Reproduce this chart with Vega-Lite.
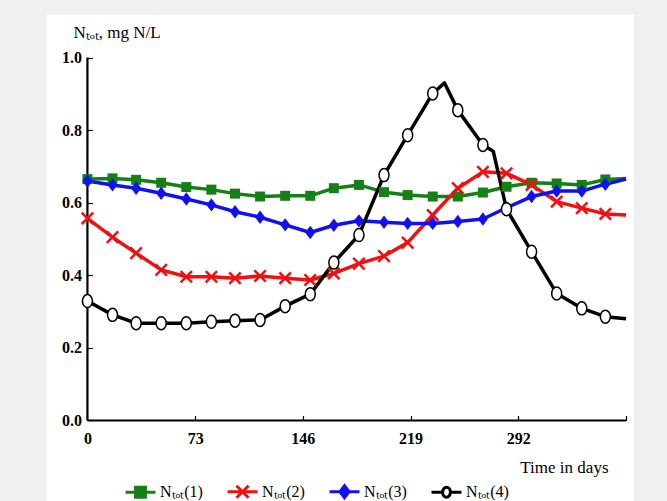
{
  "$schema": "https://vega.github.io/schema/vega-lite/v6.json",
  "width": 587,
  "height": 486,
  "autosize": {"type": "none"},
  "padding": {"left": 47, "top": 15, "right": 33, "bottom": 0},
  "background": "#eef0f2",
  "config": {"view": {"fill": "white", "stroke": null}},
  "data": {"values": [
    {"day": 0, "value": 0.665, "series": "Nₜₒₜ(1)", "marked": true},
    {"day": 17, "value": 0.667, "series": "Nₜₒₜ(1)", "marked": true},
    {"day": 33, "value": 0.663, "series": "Nₜₒₜ(1)", "marked": true},
    {"day": 50, "value": 0.655, "series": "Nₜₒₜ(1)", "marked": true},
    {"day": 67, "value": 0.643, "series": "Nₜₒₜ(1)", "marked": true},
    {"day": 84, "value": 0.636, "series": "Nₜₒₜ(1)", "marked": true},
    {"day": 100, "value": 0.625, "series": "Nₜₒₜ(1)", "marked": true},
    {"day": 117, "value": 0.617, "series": "Nₜₒₜ(1)", "marked": true},
    {"day": 134, "value": 0.619, "series": "Nₜₒₜ(1)", "marked": true},
    {"day": 151, "value": 0.619, "series": "Nₜₒₜ(1)", "marked": true},
    {"day": 167, "value": 0.640, "series": "Nₜₒₜ(1)", "marked": true},
    {"day": 184, "value": 0.649, "series": "Nₜₒₜ(1)", "marked": true},
    {"day": 201, "value": 0.629, "series": "Nₜₒₜ(1)", "marked": true},
    {"day": 217, "value": 0.621, "series": "Nₜₒₜ(1)", "marked": true},
    {"day": 234, "value": 0.617, "series": "Nₜₒₜ(1)", "marked": true},
    {"day": 251, "value": 0.617, "series": "Nₜₒₜ(1)", "marked": true},
    {"day": 268, "value": 0.628, "series": "Nₜₒₜ(1)", "marked": true},
    {"day": 284, "value": 0.644, "series": "Nₜₒₜ(1)", "marked": true},
    {"day": 301, "value": 0.655, "series": "Nₜₒₜ(1)", "marked": true},
    {"day": 318, "value": 0.653, "series": "Nₜₒₜ(1)", "marked": true},
    {"day": 335, "value": 0.649, "series": "Nₜₒₜ(1)", "marked": true},
    {"day": 351, "value": 0.664, "series": "Nₜₒₜ(1)", "marked": true},
    {"day": 365, "value": 0.667, "series": "Nₜₒₜ(1)", "marked": false},
    {"day": 0, "value": 0.557, "series": "Nₜₒₜ(2)", "marked": true},
    {"day": 17, "value": 0.505, "series": "Nₜₒₜ(2)", "marked": true},
    {"day": 33, "value": 0.461, "series": "Nₜₒₜ(2)", "marked": true},
    {"day": 50, "value": 0.415, "series": "Nₜₒₜ(2)", "marked": true},
    {"day": 67, "value": 0.396, "series": "Nₜₒₜ(2)", "marked": true},
    {"day": 84, "value": 0.396, "series": "Nₜₒₜ(2)", "marked": true},
    {"day": 100, "value": 0.392, "series": "Nₜₒₜ(2)", "marked": true},
    {"day": 117, "value": 0.398, "series": "Nₜₒₜ(2)", "marked": true},
    {"day": 134, "value": 0.392, "series": "Nₜₒₜ(2)", "marked": true},
    {"day": 151, "value": 0.387, "series": "Nₜₒₜ(2)", "marked": true},
    {"day": 167, "value": 0.405, "series": "Nₜₒₜ(2)", "marked": true},
    {"day": 184, "value": 0.432, "series": "Nₜₒₜ(2)", "marked": true},
    {"day": 201, "value": 0.453, "series": "Nₜₒₜ(2)", "marked": true},
    {"day": 217, "value": 0.490, "series": "Nₜₒₜ(2)", "marked": true},
    {"day": 234, "value": 0.566, "series": "Nₜₒₜ(2)", "marked": true},
    {"day": 251, "value": 0.640, "series": "Nₜₒₜ(2)", "marked": true},
    {"day": 268, "value": 0.685, "series": "Nₜₒₜ(2)", "marked": true},
    {"day": 284, "value": 0.681, "series": "Nₜₒₜ(2)", "marked": true},
    {"day": 301, "value": 0.649, "series": "Nₜₒₜ(2)", "marked": true},
    {"day": 318, "value": 0.603, "series": "Nₜₒₜ(2)", "marked": true},
    {"day": 335, "value": 0.585, "series": "Nₜₒₜ(2)", "marked": true},
    {"day": 351, "value": 0.569, "series": "Nₜₒₜ(2)", "marked": true},
    {"day": 365, "value": 0.566, "series": "Nₜₒₜ(2)", "marked": false},
    {"day": 0, "value": 0.660, "series": "Nₜₒₜ(3)", "marked": true},
    {"day": 17, "value": 0.649, "series": "Nₜₒₜ(3)", "marked": true},
    {"day": 33, "value": 0.640, "series": "Nₜₒₜ(3)", "marked": true},
    {"day": 50, "value": 0.626, "series": "Nₜₒₜ(3)", "marked": true},
    {"day": 67, "value": 0.610, "series": "Nₜₒₜ(3)", "marked": true},
    {"day": 84, "value": 0.594, "series": "Nₜₒₜ(3)", "marked": true},
    {"day": 100, "value": 0.575, "series": "Nₜₒₜ(3)", "marked": true},
    {"day": 117, "value": 0.560, "series": "Nₜₒₜ(3)", "marked": true},
    {"day": 134, "value": 0.539, "series": "Nₜₒₜ(3)", "marked": true},
    {"day": 151, "value": 0.518, "series": "Nₜₒₜ(3)", "marked": true},
    {"day": 167, "value": 0.538, "series": "Nₜₒₜ(3)", "marked": true},
    {"day": 184, "value": 0.550, "series": "Nₜₒₜ(3)", "marked": true},
    {"day": 201, "value": 0.546, "series": "Nₜₒₜ(3)", "marked": true},
    {"day": 217, "value": 0.543, "series": "Nₜₒₜ(3)", "marked": true},
    {"day": 234, "value": 0.543, "series": "Nₜₒₜ(3)", "marked": true},
    {"day": 251, "value": 0.548, "series": "Nₜₒₜ(3)", "marked": true},
    {"day": 268, "value": 0.555, "series": "Nₜₒₜ(3)", "marked": true},
    {"day": 284, "value": 0.586, "series": "Nₜₒₜ(3)", "marked": true},
    {"day": 301, "value": 0.617, "series": "Nₜₒₜ(3)", "marked": true},
    {"day": 318, "value": 0.632, "series": "Nₜₒₜ(3)", "marked": true},
    {"day": 335, "value": 0.632, "series": "Nₜₒₜ(3)", "marked": true},
    {"day": 351, "value": 0.651, "series": "Nₜₒₜ(3)", "marked": true},
    {"day": 365, "value": 0.665, "series": "Nₜₒₜ(3)", "marked": false},
    {"day": 0, "value": 0.329, "series": "Nₜₒₜ(4)", "marked": true},
    {"day": 17, "value": 0.291, "series": "Nₜₒₜ(4)", "marked": true},
    {"day": 33, "value": 0.268, "series": "Nₜₒₜ(4)", "marked": true},
    {"day": 50, "value": 0.268, "series": "Nₜₒₜ(4)", "marked": true},
    {"day": 67, "value": 0.268, "series": "Nₜₒₜ(4)", "marked": true},
    {"day": 84, "value": 0.272, "series": "Nₜₒₜ(4)", "marked": true},
    {"day": 100, "value": 0.275, "series": "Nₜₒₜ(4)", "marked": true},
    {"day": 117, "value": 0.277, "series": "Nₜₒₜ(4)", "marked": true},
    {"day": 134, "value": 0.315, "series": "Nₜₒₜ(4)", "marked": true},
    {"day": 151, "value": 0.348, "series": "Nₜₒₜ(4)", "marked": true},
    {"day": 167, "value": 0.435, "series": "Nₜₒₜ(4)", "marked": true},
    {"day": 184, "value": 0.511, "series": "Nₜₒₜ(4)", "marked": true},
    {"day": 201, "value": 0.676, "series": "Nₜₒₜ(4)", "marked": true},
    {"day": 217, "value": 0.786, "series": "Nₜₒₜ(4)", "marked": true},
    {"day": 234, "value": 0.901, "series": "Nₜₒₜ(4)", "marked": true},
    {"day": 242, "value": 0.930, "series": "Nₜₒₜ(4)", "marked": false},
    {"day": 251, "value": 0.855, "series": "Nₜₒₜ(4)", "marked": true},
    {"day": 268, "value": 0.759, "series": "Nₜₒₜ(4)", "marked": true},
    {"day": 275, "value": 0.742, "series": "Nₜₒₜ(4)", "marked": false},
    {"day": 284, "value": 0.582, "series": "Nₜₒₜ(4)", "marked": true},
    {"day": 301, "value": 0.465, "series": "Nₜₒₜ(4)", "marked": true},
    {"day": 318, "value": 0.350, "series": "Nₜₒₜ(4)", "marked": true},
    {"day": 335, "value": 0.309, "series": "Nₜₒₜ(4)", "marked": true},
    {"day": 351, "value": 0.286, "series": "Nₜₒₜ(4)", "marked": true},
    {"day": 365, "value": 0.280, "series": "Nₜₒₜ(4)", "marked": false}
  ]},
  "encoding": {
    "x": {
      "field": "day", "type": "quantitative",
      "scale": {"domain": [-27.4, 370.4], "nice": false, "zero": false},
      "axis": {
        "title": "Time in days",
        "values": [0, 73, 146, 219, 292, 365],
        "format": "d",
        "labelExpr": "datum.value == 365 ? '' : datum.label",
        "domain": false, "grid": false,
        "offset": -80.5,
        "tickSize": -5, "tickColor": "black", "tickWidth": 1.2,
        "labelPadding": 15,
        "labelFont": "Liberation Serif", "labelFontWeight": "bold", "labelFontSize": 16, "labelColor": "black",
        "titleFont": "Liberation Serif", "titleFontWeight": "normal", "titleFontSize": 17, "titleColor": "black",
        "titleX": 561, "titleY": 47, "titleAlign": "right", "titleBaseline": "middle"
      }
    },
    "y": {
      "field": "value", "type": "quantitative",
      "scale": {"domain": [-0.2218, 1.1171], "nice": false, "zero": false},
      "axis": {
        "title": "Nₜₒₜ, mg N/L",
        "values": [0, 0.2, 0.4, 0.6, 0.8, 1.0],
        "format": ".1f",
        "domain": false, "grid": false,
        "offset": -40.4,
        "tickSize": -5, "tickColor": "black", "tickWidth": 1.2,
        "labelPadding": 11,
        "labelFont": "Liberation Serif", "labelFontWeight": "bold", "labelFontSize": 16, "labelColor": "black",
        "titleFont": "Liberation Serif", "titleFontWeight": "normal", "titleFontSize": 17, "titleColor": "black",
        "titleAngle": 0, "titleX": -14.4, "titleY": 22, "titleAlign": "left", "titleBaseline": "alphabetic"
      }
    }
  },
  "layer": [
    {
      "transform": [{"filter": "datum.day == 0 && datum.series === 'Nₜₒₜ(1)'"}],
      "mark": {"type": "rule", "color": "black", "strokeWidth": 2.2},
      "encoding": {
        "x": {"datum": 0, "type": "quantitative"},
        "y": {"datum": 0, "type": "quantitative"},
        "y2": {"datum": 1}
      }
    },
    {
      "transform": [{"filter": "datum.day == 0 && datum.series === 'Nₜₒₜ(1)'"}],
      "mark": {"type": "rule", "color": "black", "strokeWidth": 2.2},
      "encoding": {
        "x": {"datum": 0, "type": "quantitative"},
        "x2": {"datum": 365},
        "y": {"datum": 0, "type": "quantitative"}
      }
    },
    {
      "mark": {"type": "line", "strokeWidth": 3.5, "strokeJoin": "round"},
      "encoding": {
        "color": {
          "field": "series", "type": "nominal",
          "scale": {"domain": ["Nₜₒₜ(4)", "Nₜₒₜ(3)", "Nₜₒₜ(2)", "Nₜₒₜ(1)"], "range": ["#000000", "#1010f0", "#f01010", "#158015"]},
          "legend": null
        }
      }
    },
    {
      "transform": [{"filter": "datum.series === 'Nₜₒₜ(1)' && datum.marked"}],
      "mark": {"type": "point", "shape": "square", "filled": true, "color": "#158015", "size": 100, "opacity": 1}
    },
    {
      "transform": [{"filter": "datum.series === 'Nₜₒₜ(2)' && datum.marked"}],
      "mark": {"type": "point", "shape": "M-1,-1L1,1M-1,1L1,-1", "filled": false, "stroke": "#f01010", "strokeWidth": 2.5, "size": 130, "opacity": 1}
    },
    {
      "transform": [{"filter": "datum.series === 'Nₜₒₜ(3)' && datum.marked"}],
      "mark": {"type": "point", "shape": "M0,-1L0.75,0L0,1L-0.75,0Z", "filled": true, "color": "#1010f0", "size": 180, "opacity": 1}
    },
    {
      "transform": [{"filter": "datum.series === 'Nₜₒₜ(4)' && datum.marked"}],
      "mark": {"type": "point", "shape": "M0.77,0A0.77,1,0,1,1,-0.77,0A0.77,1,0,1,1,0.77,0Z", "filled": true, "fill": "white", "stroke": "black", "strokeWidth": 1.5, "size": 169, "opacity": 1}
    },
    {
      "mark": {"type": "point", "filled": true, "opacity": 0, "strokeWidth": 3},
      "encoding": {
        "shape": {
          "field": "series", "type": "nominal",
          "scale": {"domain": ["Nₜₒₜ(1)", "Nₜₒₜ(2)", "Nₜₒₜ(3)", "Nₜₒₜ(4)"], "range": [
            "M-1,0H1M-0.33,-0.33H0.33V0.33H-0.33Z",
            "M-1,0H1M-0.4,-0.4L0.4,0.4M-0.4,0.4L0.4,-0.4",
            "M-1,0H1M0,-0.4L0.3,0L0,0.4L-0.3,0Z",
            "M-1,0H-0.26M0.26,0H1M0.26,0A0.26,0.33,0,1,1,-0.26,0A0.26,0.33,0,1,1,0.26,0Z"
          ]},
          "legend": {"orient": "none", "direction": "horizontal", "legendX": 77, "legendY": 460, "title": null, "symbolSize": 900, "symbolStrokeWidth": 3, "symbolOpacity": 1, "labelFont": "Liberation Serif", "labelFontSize": 16, "labelColor": "black", "labelOffset": 3, "columnPadding": 18, "padding": 0}
        },
        "fill": {
          "field": "series", "type": "nominal",
          "scale": {"domain": ["Nₜₒₜ(1)", "Nₜₒₜ(2)", "Nₜₒₜ(3)", "Nₜₒₜ(4)"], "range": ["#158015", "#f01010", "#1010f0", "#ffffff"]}
        },
        "stroke": {
          "field": "series", "type": "nominal",
          "scale": {"domain": ["Nₜₒₜ(1)", "Nₜₒₜ(2)", "Nₜₒₜ(3)", "Nₜₒₜ(4)"], "range": ["#158015", "#f01010", "#1010f0", "#000000"]}
        }
      }
    }
  ]
}
